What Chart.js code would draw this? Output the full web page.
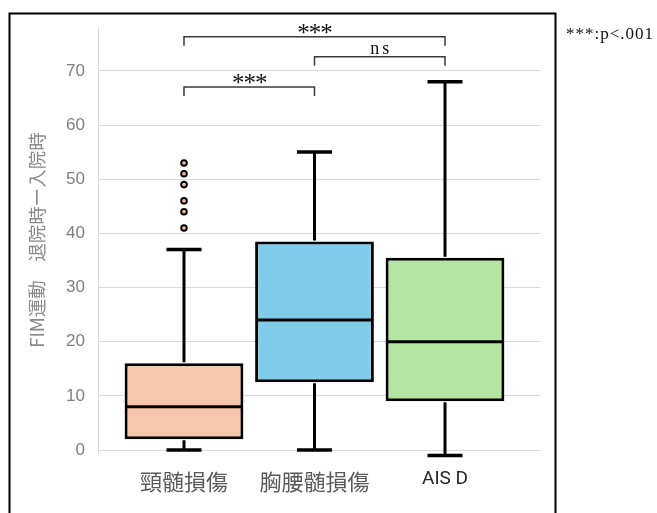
<!DOCTYPE html>
<html><head><meta charset="utf-8">
<script src="https://cdn.jsdelivr.net/npm/chart.js@4.4.1/dist/chart.umd.min.js"></script>
<style>html,body{margin:0;padding:0;background:#fff;}canvas{display:block;}</style>
</head><body>
<canvas id="c" width="657" height="513"></canvas>
<script>
// ---- data ----
const categories = ['頸髄損傷', '胸腰髄損傷', 'AIS D'];
const whiskerMin = [0, 0, -1];
const q1 = [2, 12.5, 9];
const median = [8, 24, 20];
const q3 = [16, 38.5, 35.5];
const whiskerMax = [37, 55, 68];
const outliersCervical = [41, 44, 46, 49, 51, 53];
const yTicks = [0, 10, 20, 30, 40, 50, 60, 70];
const compareFrom = [0, 1, 0];
const compareTo = [2, 2, 1];
const compareLabels = ['***', 'ns', '***'];
const noteText = '***:p<.001';
const yTitle = 'FIM運動　退院時ー入院時';

// ---- styles ----
const fills = ['#F6C7AD', '#80CBEA', '#B4E6A1'];
const bracketLevels = [76.3, 72.6, 67.0]; // value-space heights of the brackets

const extras = {
  id: 'extras',
  afterDatasetsDraw(chart) {
    const {ctx, scales: {x, y}} = chart;
    const meta = chart.getDatasetMeta(0);
    ctx.save();
    ctx.strokeStyle = '#000';
    ctx.lineCap = 'butt';
    meta.data.forEach((bar, i) => {
      const cx = x.getPixelForValue(i + 1);
      const half = bar.width / 2;
      ctx.lineWidth = 3;
      const ym = y.getPixelForValue(median[i]);
      ctx.beginPath(); ctx.moveTo(cx - half + 2, ym); ctx.lineTo(cx + half - 2, ym); ctx.stroke();
      const yq1 = y.getPixelForValue(q1[i]), yq3 = y.getPixelForValue(q3[i]);
      const ymin = y.getPixelForValue(whiskerMin[i]), ymax = y.getPixelForValue(whiskerMax[i]);
      ctx.lineWidth = 3;
      ctx.beginPath();
      ctx.moveTo(cx, yq3 - 1); ctx.lineTo(cx, ymax);
      ctx.moveTo(cx, yq1 + 1); ctx.lineTo(cx, ymin);
      ctx.stroke();
      ctx.lineWidth = 3.5;
      ctx.beginPath();
      ctx.moveTo(cx - 17.5, ymax); ctx.lineTo(cx + 17.5, ymax);
      ctx.moveTo(cx - 17.5, ymin); ctx.lineTo(cx + 17.5, ymin);
      ctx.stroke();
    });
    ctx.strokeStyle = '#3a3a3a';
    ctx.lineWidth = 1.5;
    ctx.fillStyle = '#111';
    ctx.textAlign = 'center';
    ctx.textBaseline = 'alphabetic';
    compareLabels.forEach((lab, k) => {
      const xa = x.getPixelForValue(compareFrom[k] + 1);
      const xb = x.getPixelForValue(compareTo[k] + 1);
      const yb = y.getPixelForValue(bracketLevels[k]);
      ctx.beginPath();
      ctx.moveTo(xa, yb + 9); ctx.lineTo(xa, yb); ctx.lineTo(xb, yb); ctx.lineTo(xb, yb + 9);
      ctx.stroke();
      if (lab === 'ns') {
        ctx.font = '18px "Liberation Serif"';
        ctx.letterSpacing = '3px';
        ctx.fillText(lab, (xa + xb) / 2 + 1.5, yb - 3);
      } else {
        ctx.font = '25px "Liberation Serif"';
        ctx.letterSpacing = '-1px';
        ctx.fillText(lab, (xa + xb) / 2, yb + 4);
      }
    });
    ctx.restore();
  },
  afterDraw(chart) {
    const {ctx} = chart;
    ctx.save();
    ctx.strokeStyle = '#000';
    ctx.lineWidth = 2;
    ctx.strokeRect(9.5, 13.5, 546, 520);
    ctx.fillStyle = '#111';
    ctx.font = '17px "Liberation Serif"';
    ctx.letterSpacing = '1px';
    ctx.textAlign = 'left';
    ctx.textBaseline = 'alphabetic';
    ctx.fillText(noteText, 566, 39);
    ctx.restore();
  }
};

new Chart(document.getElementById('c'), {
  type: 'bar',
  data: {
    datasets: [
      {
        type: 'bar',
        data: categories.map((c, i) => ({x: i + 1, y: [q1[i], q3[i]]})),
        backgroundColor: fills,
        borderColor: '#000',
        borderWidth: 3,
        borderSkipped: false,
        barPercentage: 0.91,
        categoryPercentage: 1,
        inflateAmount: 0
      },
      {
        type: 'scatter',
        data: outliersCervical.map(v => ({x: 1, y: v})),
        pointRadius: 2.8,
        pointBorderWidth: 2,
        pointBorderColor: '#000',
        pointBackgroundColor: fills[0]
      }
    ]
  },
  options: {
    responsive: false,
    animation: false,
    devicePixelRatio: 1,
    layout: {padding: {top: 27, right: 117, left: 0, bottom: 0}},
    plugins: {legend: {display: false}, tooltip: {enabled: false}},
    scales: {
      x: {
        type: 'linear',
        min: 0.341,
        max: 3.728,
        offset: false,
        grid: {display: false},
        border: {display: false},
        afterBuildTicks: s => { s.ticks = categories.map((c, i) => ({value: i + 1})); },
        afterFit: s => { s.height = 60; },
        ticks: {
          autoSkip: false,
          maxRotation: 0,
          padding: 7,
          callback: v => categories[v - 1],
          color: ctx => ctx.index === 2 ? '#262626' : '#595959',
          font: ctx => ctx.index === 2 ? {family: 'Roboto', size: 19} : {family: '"Noto Sans CJK JP"', size: 22}
        }
      },
      y: {
        min: -0.55,
        max: 78.1,
        afterBuildTicks: s => { s.ticks = yTicks.map(v => ({value: v})); },
        afterFit: s => { s.width = 98; },
        grid: {color: '#d9d9d9', lineWidth: 1, drawTicks: false},
        border: {display: true, color: '#d9d9d9', width: 1},
        ticks: {
          padding: 13,
          color: '#7f7f7f',
          font: {family: '"Liberation Sans"', size: 17}
        },
        title: {
          display: true,
          text: yTitle,
          color: '#8a8a8a',
          font: {family: '"Noto Sans CJK JP"', size: 18.5},
          padding: {top: 26, bottom: 0}
        }
      }
    }
  },
  plugins: [extras]
});
</script>
</body></html>
